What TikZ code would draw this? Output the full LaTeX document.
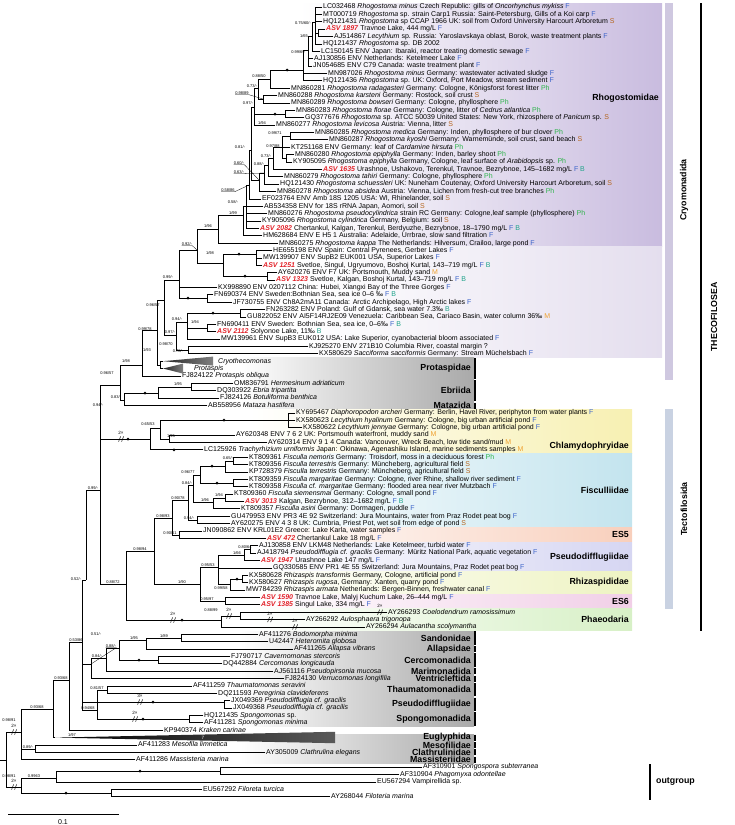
\documentclass[tikz,border=0pt]{standalone}
\usepackage{fontspec}
\setmainfont{Liberation Sans}
\usetikzlibrary{calc}
\definecolor{cF}{HTML}{3A62C9}
\definecolor{cS}{HTML}{B5651D}
\definecolor{cPh}{HTML}{2DB34A}
\definecolor{cM}{HTML}{EFA02E}
\definecolor{cB}{HTML}{1FA38A}
\definecolor{cASV}{HTML}{E2232A}
\definecolor{cRho}{HTML}{C9BCDF}
\definecolor{cCry}{HTML}{E4DEEE}
\definecolor{cBand}{HTML}{CFC8E0}
\definecolor{cTect}{HTML}{C9D2E2}
\definecolor{cGrey}{HTML}{A9A9A9}
\definecolor{cChl}{HTML}{F7F0B2}
\definecolor{cFis}{HTML}{C3E4EE}
\definecolor{cESf}{HTML}{F8CFBC}
\definecolor{cPse}{HTML}{D6D6F2}
\definecolor{cRhz}{HTML}{EEF3C2}
\definecolor{cESs}{HTML}{F1CFE7}
\definecolor{cPha}{HTML}{D7F0C6}
\newcommand{\hF}{\textcolor{cF}{F}}
\newcommand{\hS}{\textcolor{cS}{S}}
\newcommand{\hP}{\textcolor{cPh}{Ph}}
\newcommand{\hM}{\textcolor{cM}{M}}
\newcommand{\hB}{\textcolor{cB}{B}}
\newcommand{\asv}[1]{\textcolor{cASV}{\textbf{\textit{ASV #1}}}}
% break mark on a long branch
\newcommand{\brkmark}[3]{%
  \draw[line width=0.5pt] ({#1-2.4},{#2+2.6}) -- ({#1-0.4},{#2-2.6}) ({#1+0.6},{#2+2.6}) -- ({#1+2.6},{#2-2.6});
  \node[sup,font=\fontsize{4.6}{5}\selectfont] at (#1,{#2-6}) {#3};}
\tikzset{
  br/.style={line width=0.75pt, line cap=rect},
  pt/.style={inner sep=0pt, minimum size=0pt},
  leaf/.style={anchor=west, inner sep=1pt, text height=5.1pt, text depth=1.4pt, font=\fontsize{7}{7}\selectfont},
  sup/.style={inner sep=0pt, font=\fontsize{4}{4}\selectfont},
  lead/.style={line width=0.3pt},
  fam/.style={anchor=east, inner sep=1pt, font=\bfseries\fontsize{8.8}{9}\selectfont},
}
\begin{document}
\begin{tikzpicture}[x=1pt,y=-1pt]
\useasboundingbox (0,0) rectangle (735,825);

% clade backgrounds
\shade[left color=white, right color=cRho] (300,3.3) rectangle (662,246.9);
\shade[left color=white, right color=cCry] (300,246.9) rectangle (662,357.6);
\fill[cBand] (665,3.3) rectangle (673,379.7);
\fill[cTect] (665,409.2) rectangle (673,608.5);
\foreach \a/\b/\c in {55/60/cChl, 61/70/cFis, 71/72/cESf, 73/76/cPse, 77/79/cRhz, 80/81/cESs, 82/84/cPha}
  \shade[left color=white, right color=\c] (250,{7+7.38*\a-3.3}) rectangle (632,{7+7.38*\b+3.3});
\foreach \a/\b in {48/50, 51/53, 54/54, 85/86, 87/87, 88/89, 90/90, 91/91, 92/93, 94/95, 96/97, 99/99, 100/100, 101/101, 102/102} {
  \shade[left color=white, right color=cGrey] (240,{7+7.38*\a-3.3}) rectangle (474,{7+7.38*\b+3.3});
  \draw[line width=1.2pt] (475,{7+7.38*\a-3}) -- (475,{7+7.38*\b+3});
}

% internal nodes
\foreach \n/\x/\y in {R4/315/22, R4b/318/33, R3/312/36, R2/308/50, R1/303/70, R0/270/79,
  A8/263/99, A7/258/88, A9/285/114, A5/254/107, B1/290/136, B2/286/158, B3/282/147,
  B4/273/158, B5/268/165, B6/264/173, B7/259/180, A4/251/150, A3/249/185, A2/246/206,
  A1/243/215, A0/218/229, D1/256/254, D3/267/276, D2/223/263, C0/197/250, D4/207/298,
  C1/179/280, D5/240/313, D6/207/328, C5/187/322, C6/188/350, C7/176/335, C3/164/300,
  C4/160/365, CrA/163/361.2, PrA/163/368.6, Cry1/157/330, Cry/142/365,
  E1/191/387, E2/158/393, E0/124/400, Nceb/120/385,
  F1/288/420, F2/169/439, F3/160/428, F4/150/439, N100/100/490,
  G1/233/461, G2/225/466, G3/233/483, G4/200/475, G5a/225/498, G5/213/502, G6/193/485,
  G7/197/520, G8/188/500, T2b/179/535, T2/172/518, P1/250/549, P2/244/555,
  Rz1/242/579, Rz0/230/584, T3a/218/567, ESs/225/601, T3/200/584, T1/154/551,
  Ph1/240/616, Ph0/221/620, Ntect/126/584, TH/86/580,
  Sa4/181/638, Sa3/146/640, Cerc/158/660, Sa2/119/648, Sa1/106/658, Sa0/91/664,
  Tm1/107/690, Sp/189/719, Tm0/97/710, PD/224/702, S0/82/642, S1/69/680,
  S2/53/709, EuA/55/737.6, GR/35/749, S3/21/732, Phy/220/771, EN/56/778,
  FI/111/793, OG/21/787, RT/6/760, rs/0/760}
  \node[pt] (\n) at (\x,\y) {};

% leaves
\foreach \i/\x/\t in {
 0/322/{LC032468 \textit{Rhogostoma minus} Czech Republic: gills of \textit{Oncorhynchus mykiss} \hF},
 1/322/{MT000719 \textit{Rhogostoma} sp. strain Carp1 Russia: Saint-Petersburg, Gills of a Koi carp \hF},
 2/322/{HQ121431 \textit{Rhogostoma} sp CCAP 1966 UK: soil from Oxford University Harcourt Arboretum \hS},
 3/325/{\asv{1897} Travnoe Lake, 444 mg/L \hF},
 4/333/{AJ514867 \textit{Lecythium} sp. Russia: Yaroslavskaya oblast, Borok, waste treatment plants \hF},
 5/322/{HQ121437 \textit{Rhogostoma} sp. DB 2002},
 6/320/{LC150145 ENV Japan: Ibaraki, reactor treating domestic sewage \hF},
 7/313/{AJ130856 ENV Netherlands: Ketelmeer Lake \hF},
 8/312/{JN054685 ENV C79 Canada: waste treatment plant \hF},
 9/327/{MN987026 \textit{Rhogostoma minus} Germany: wastewater activated sludge \hF},
 10/322/{HQ121436 \textit{Rhogostoma} sp. UK: Oxford, Port Meadow, stream sediment \hF},
 11/290/{MN860281 \textit{Rhogostoma radagasteri} Germany: Cologne, Königsforst forest litter \hP},
 12/277/{MN860288 \textit{Rhogostoma karsteni} Germany: Rostock, soil crust \hS},
 13/290/{MN860289 \textit{Rhogostoma bowseri} Germany: Cologne, phyllosphere \hP},
 14/295/{MN860283 \textit{Rhogostoma florae} Germany: Cologne, litter of \textit{Cedrus atlantica} \hP},
 15/304/{GQ377676 \textit{Rhogostoma} sp. ATCC 50039 United States: New York, rhizosphere of \textit{Panicum} sp. \hS},
 16/275/{MN860277 \textit{Rhogostoma levicosa} Austria: Vienna, litter \hS},
 17/314/{MN860285 \textit{Rhogostoma medica} Germany: Inden, phyllosphere of bur clover \hP},
 18/328/{MN860287 \textit{Rhogostoma kyoshi} Germany: Warnemünde, soil crust, sand beach \hS},
 19/290/{KT251168 ENV Germany: leaf of \textit{Cardamine hirsuta} \hP},
 20/294/{MN860280 \textit{Rhogostoma epiphylla} Germany: Inden, barley shoot \hP},
 21/292/{KY905095 \textit{Rhogostoma epiphylla} Germany, Cologne, leaf surface of \textit{Arabidopsis} sp. \hP},
 22/322/{\asv{1635} Urashnoe, Ushakovo, Terenkul, Travnoe, Bezrybnoe, 145–1682 mg/L \hF\ \hB},
 23/283/{MN860279 \textit{Rhogostoma tahiri} Germany: Cologne, phyllosphere \hP},
 24/279/{HQ121430 \textit{Rhogostoma schuessleri} UK: Nuneham Coutenay, Oxford University Harcourt Arboretum, soil \hS},
 25/276/{MN860278 \textit{Rhogostoma absidea} Austria: Vienna, Lichen from fresh-cut tree branches \hP},
 26/261/{EF023764 ENV Amb 18S 1205 USA: WI, Rhinelander, soil \hS},
 27/263/{AB534358 ENV for 18S rRNA Japan, Aomori, soil \hS},
 28/267/{MN860276 \textit{Rhogostoma pseudocylindrica} strain RC Germany: Cologne,leaf sample (phyllosphere) \hP},
 29/261/{KY905096 \textit{Rhogostoma cylindrica} Germany, Belgium: soil \hS},
 30/259/{\asv{2082} Chertankul, Kalgan, Terenkul, Berdyuzhe, Bezrybnoe, 18–1790 mg/L \hF\ \hB},
 31/262/{HM628684 ENV E H5 1 Australia: Adelaide, Urrbrae, slow sand filtration \hF},
 32/278/{MN860275 \textit{Rhogostoma kappa} The Netherlands: Hilversum, Crailoo, large pond \hF},
 33/272/{HE655198 ENV Spain: Central Pyrenees, Gerber Lakes \hF},
 34/262/{MW139907 ENV SupB2 EUK001 USA, Superior Lakes \hF},
 35/262/{\asv{1251} Svetloe, Singul, Ugryumovo, Boshoj Kurtal, 143–719 mg/L \hF\ \hB},
 36/277/{AY620276 ENV F7 UK: Portsmouth, Muddy sand \hM},
 37/275/{\asv{1323} Svetloe, Kalgan, Boshoj Kurtal, 143–719 mg/L \hF\ \hB},
 38/217/{KX998890 ENV 0207112 China: Hubei, Xiangxi Bay of the Three Gorges \hF},
 39/213/{FN690374 ENV Sweden:Bothnian Sea, sea ice 0–6 ‰ \hF\ \hB},
 40/232/{JF730755 ENV Ch8A2mA11 Canada: Arctic Archipelago, High Arctic lakes \hF},
 41/265/{FN263282 ENV Poland: Gulf of Gdansk, sea water 7.3‰ \hB},
 42/246/{GU822052 ENV AI5F14RJ2E09 Venezuela: Caribbean Sea, Cariaco Basin, water column 36‰ \hM},
 43/216/{FN690411 ENV Sweden: Bothnian Sea, sea ice, 0–6‰ \hF\ \hB},
 44/216/{\asv{2112} Solyonoe Lake, 11‰ \hB},
 45/220/{MW139961 ENV SupB3 EUK012 USA: Lake Superior, cyanobacterial bloom associated \hF},
 46/308/{KJ925270 ENV 271B10 Columbia River, coastal margin ?},
 47/318/{KX580629 \textit{Sacciforma sacciformis} Germany: Stream Müchelsbach \hF},
 48/217/{\textit{Cryothecomonas}},
 49/193/{\textit{Protaspis}},
 50/181/{FJ824122 \textit{Protaspis obliqua}},
 51/233/{OM836791 \textit{Hermesinum adriaticum}},
 52/216/{DQ303922 \textit{Ebria tripartita}},
 53/219/{FJ824126 \textit{Botuliforma benthica}},
 54/207/{AB558956 \textit{Mataza hastifera}},
 55/295/{KY695467 \textit{Diaphoropodon archeri} Germany: Berlin, Havel River, periphyton from water plants \hF},
 56/295/{KX580623 \textit{Lecythium hyalinum} Germany: Cologne, big urban artificial pond \hF},
 57/302/{KX580622 \textit{Lecythium jennyae} Germany: Cologne, big urban artificial pond \hF},
 58/235/{AY620348 ENV 7 6 2 UK: Portsmouth waterfront, muddy sand \hM},
 59/267/{AY620314 ENV 9 1 4 Canada: Vancouver, Wreck Beach, low tide sand/mud \hM},
 60/203/{LC125926 \textit{Trachyrhizium urniformis} Japan: Okinawa, Agenashiku Island, marine sediments samples \hM},
 61/248/{KT809361 \textit{Fisculla nemoris} Germany: Troisdorf, moss in a deciduous forest \hP},
 62/248/{KT809356 \textit{Fisculla terrestris} Germany: Müncheberg, agricultural field \hS},
 63/248/{KP728379 \textit{Fisculla terrestris} Germany: Müncheberg, agricultural field \hS},
 64/248/{KT809359 \textit{Fisculla margaritae} Germany: Cologne, river Rhine, shallow river sediment \hF},
 65/248/{KT809358 \textit{Fisculla cf. margaritae} Germany: flooded area near river Mutzbach \hF},
 66/233/{KT809360 \textit{Fisculla siemensmai} Germany: Cologne, small pond \hF},
 67/244/{\asv{3013} Kalgan, Bezrybnoe, 312–1682 mg/L \hF\ \hB},
 68/240/{KT809357 \textit{Fisculla asini} Germany: Dormagen, puddle \hF},
 69/230/{GU479953 ENV PR3 4E 92 Switzerland: Jura Mountains, water from Praz Rodet peat bog \hF},
 70/230/{AY620275 ENV 4 3 8 UK: Cumbria, Priest Pot, wet soil from edge of pond \hS},
 71/202/{JN090862 ENV KRL01E2 Greece: Lake Karla, water samples \hF},
 72/266/{\asv{472} Chertankul Lake 18 mg/L \hF},
 73/258/{AJ130858 ENV LKM48 Netherlands: Lake Ketelmeer, turbid water \hF},
 74/256/{AJ418794 \textit{Pseudodifflugia cf. gracilis} Germany: Müritz National Park, aquatic vegetation \hF},
 75/260/{\asv{1947} Urashnoe Lake 147 mg/L \hF},
 76/272/{GQ330585 ENV PR1 4E 55 Switzerland: Jura Mountains, Praz Rodet peat bog \hF},
 77/248/{KX580628 \textit{Rhizaspis transformis} Germany, Cologne, artificial pond \hF},
 78/248/{KX580627 \textit{Rhizaspis rugosa}, Germany: Xanten, quarry pond \hF},
 79/245/{MW784239 \textit{Rhizaspis armata} Netherlands: Bergen-Binnen, freshwater canal \hF},
 80/260/{\asv{1590} Travnoe Lake, Malyj Kuchum Lake, 26–444 mg/L \hF},
 81/260/{\asv{1385} Singul Lake, 334 mg/L \hF},
 82/387/{AY266293 \textit{Coelodendrum ramosissimum}},
 83/305/{AY266292 \textit{Aulosphaera trigonopa}},
 84/365/{AY266294 \textit{Aulacantha scolymantha}},
 85/258/{AF411276 \textit{Bodomorpha minima}},
 86/268/{U42447 \textit{Heteromita globosa}},
 87/293/{AF411265 \textit{Allapsa vibrans}},
 88/230/{FJ790717 \textit{Cavernomonas stercoris}},
 89/222/{DQ442884 \textit{Cercomonas longicauda}},
 90/273/{AJ561116 \textit{Pseudopirsonia mucosa}},
 91/284/{FJ824130 \textit{Verrucomonas longifilia}},
 92/192/{AF411259 \textit{Thaumatomonas seravini}},
 93/217/{DQ211593 \textit{Peregrinia clavideferens}},
 94/230/{JX049369 \textit{Pseudodifflugia cf. gracilis}},
 95/232/{JX049368 \textit{Pseudodifflugia cf. gracilis}},
 96/203/{HQ121435 \textit{Spongomonas} sp.},
 97/203/{AF411281 \textit{Spongomonas minima}},
 98/163/{KP940374 \textit{Kraken carinae}},
 100/137/{AF411283 \textit{Mesofila limnetica}},
 101/265/{AY305009 \textit{Clathrulina elegans}},
 102/135/{AF411286 \textit{Massisteria marina}},
 103/422/{AF310901 \textit{Spongospora subterranea}},
 104/399/{AF310904 \textit{Phagomyxa odontellae}},
 105/376/{EU567294 Vampirellida sp.},
 106/202/{EU567292 \textit{Filoreta turcica}},
 107/330/{AY268044 \textit{Filoteria marina}}}
  \node[leaf] (L\i) at (\x,{7+7.38*\i}) {\t};

% branches
\foreach \p/\c in {R4/L0, R4/L1, R4/L2, R4/R4b, R4/L5, R4b/L3, R4b/L4, R3/R4, R3/L6,
  R2/R3, R2/L7, R2/L8, R1/R2, R1/L9, R1/L10, R0/R1, R0/L11, A7/R0, A7/A8, A8/L12, A8/L13,
  A9/L14, A9/L15, A5/A7, A5/A9, A5/L16, B1/L17, B1/L18, B2/L20, B2/L21, B3/B1, B3/L19,
  B3/B2, B4/B3, B4/L22, B5/B4, B5/L23, B6/B5, B6/L24, B7/B6, B7/L25, A4/A5, A4/B7,
  A3/A4, A3/L26, A2/A3, A2/L27, A2/L28, A2/L29, A2/L30, A1/A2, A1/L31, A0/A1, A0/L32,
  D1/L33, D1/L34, D1/L35, D3/L36, D3/L37, D2/D1, D2/D3, C0/A0, C0/D2, D4/L39, D4/L40,
  C1/C0, C1/L38, C1/D4, D5/L41, D5/L42, D6/L43, D6/L44, C5/D5, C5/D6, C5/L45,
  C6/L46, C6/L47, C7/C5, C7/C6, C3/C1, C3/C7, C4/CrA, C4/PrA, Cry1/C3, Cry1/C4,
  Cry/Cry1, Cry/L50, E1/L51, E1/L52, E2/E1, E2/L53, E0/E2, E0/L54, Nceb/Cry, Nceb/E0,
  F1/L55, F1/L56, F1/L57, F2/L58, F2/L59, F3/F1, F3/F2, F4/F3, F4/L60,
  N100/Nceb, N100/F4, N100/Ntect, G1/L61, G1/L62, G2/G1, G2/L63, G3/L64, G3/L65,
  G4/G2, G4/G3, G5a/L66, G5a/L67, G5/G5a, G5/L68, G6/G4, G6/G5, G7/L69, G7/L70,
  G8/G6, G8/G7, T2b/L71, T2b/L72, T2/G8, T2/T2b, P1/L73, P1/L74, P2/P1, P2/L75,
  Rz1/L77, Rz1/L78, Rz0/Rz1, Rz0/L79, T3a/P2, T3a/L76, T3a/Rz0, ESs/L80, ESs/L81,
  T3/T3a, T3/ESs, T1/T2, T1/T3, Ph1/L82, Ph1/L83, Ph0/Ph1, Ph0/L84, Ntect/T1, Ntect/Ph0,
  TH/N100, Sa4/L85, Sa4/L86, Sa3/Sa4, Sa3/L87, Cerc/L88, Cerc/L89, Sa2/Sa3, Sa2/Cerc,
  Sa1/Sa2, Sa1/L90, Sa0/Sa1, Sa0/L91, Tm1/L92, Tm1/L93, Sp/L96, Sp/L97, Tm0/Tm1, Tm0/Sp,
  PD/L94, PD/L95, S0/TH, S0/Sa0, S0/PD, S0/Tm0, S1/S0, S1/L98, S2/S1, S2/EuA,
  GR/L100, GR/L101, S3/S2, S3/GR, S3/L102, Phy/L103, Phy/L104, EN/Phy, EN/L105,
  FI/L106, FI/L107, OG/EN, OG/FI, RT/S3, RT/OG}
  \draw[br] (\p) |- (\c.west);
\draw[br] (rs) -- (RT);

% collapsed clades
\shade[left color=black!85, right color=black!50] (CrA) -- (213,356.6) -- (213,365.6) -- cycle;
\shade[left color=black!85, right color=black!50] (PrA) -- (183,363.6) -- (183,373.6) -- cycle;
\shade[left color=black, right color=black!65] (EuA) -- (335,731.8) -- (335,743.2) -- cycle;
\node[sup, text=white, font=\fontsize{4.6}{5}\selectfont] (eun) at (203,737.8) {7};

% full support
\foreach \x/\y in {287/70, 275/114, 239/254, 245/276, 188/298, 213/313, 145/393, 224/420,
  174/449.8, 128/439, 212/466, 217/483, 237/579, 182/620, 139/660, 153/702, 143/719,
  140/771, 66/793}
  \fill (\x,\y) circle (1.5);

% long branches
\foreach \x/\y/\t in {121/439/2×, 173/620/2×, 229/616/2×, 380/612.2/2×, 270/619.5/2×,
  295/626.9/2×, 140/702/3×, 135/719/2×, 14/732/2×, 14/787/2×}
  {\brkmark{\x}{\y}{\t}}

% support values
\foreach \x/\y/\t [count=\k] in {303/23/{0.75/60/-}, 304/36/{1/65}, 298/52/{0.99/69},
  259/76/{0.88/50}, 252/86/{0.73/-}, 242/93/{0.98/89}, 248/103/{0.97/-}, 262/123/{1/94},
  275/133/{0.99/71}, 273/146/{0.97/88}, 266/156/{0.73/-}, 240/147/{0.81/-},
  239/163/{0.60/-}, 259/164/{0.88/-}, 239/172/{0.63/-}, 228/190/{0.58/86},
  233/202/{0.58/-}, 233/213/{1/99}, 208/226/{1/96}, 187/244/{0.92/-}, 210/253/{1/98},
  168/277/{0.99/-}, 153/305/{0.96/57}, 177/319/{0.94/-}, 195/322/{1/94}, 170/332/{0.97/-},
  145/329/{0.99/78}, 166/344/{0.98/70}, 178/351/{0.78/-}, 147/350/{1/93}, 126/361/{1/98},
  107/373/{0.96/57}, 178/384/{1/95}, 116/397/{0.83/-}, 98/405/{0.94/-}, 148/424/{0.65/53},
  171/436/{1/95}, 228/458/{0.65/-}, 188/472/{0.96/77}, 187/483/{0.84/-}, 219/495/{1/94},
  205/500/{1/96}, 178/498/{0.90/78}, 189/518/{0.94/-}, 163/516/{0.98/93}, 170/533/{0.90/61},
  93/488/{0.99/-}, 140/549/{0.98/94}, 245/547/{0.80/64}, 237/553/{1/66}, 208/565/{0.95/53},
  182/582/{1/90}, 113/582/{0.88/72}, 76/579/{0.52/-}, 221/588/{0.99/58}, 207/599/{0.95/97},
  211/610/{0.88/99}, 96/634/{0.51/-}, 76/640/{0.53/86}, 134/638/{1/95}, 164/636/{1/89},
  111/646/{0.88/-}, 97/656/{0.84/-}, 97/688/{0.81/57}, 88/708/{0.94/68}, 61/678/{0.93/68},
  37/707/{0.93/68}, 72/735/{1/97}, 28/747/{0.89/-}, 9/720/{0.98/91}, 9/776/{0.98/91},
  34/776/{0.9963}}
  \node[sup] (s\k) at (\x,\y) {\t};

% leader lines of the shifted support values
\foreach \k/\n in {6/A8, 13/B7, 15/B6, 16/A3, 20/C0, 62/Sa0}
  \draw[lead] (s\k.south west) -- (s\k.south east) -- (\n);

% family labels
\node[fam] (fRho) at (660,98) {Rhogostomidae};
\foreach \n/\y/\t in {fPro/368.6/Protaspidae, fEbr/390.8/Ebriida, fMat/405.5/Matazida,
  fSan/638/Sandonidae, fAll/649.1/Allapsidae, fCer/660.1/Cercomonadida,
  fMar/671.2/Marimonadida, fVen/678.6/Ventricleftida, fTha/689.7/Thaumatomonadida,
  fPsl/704.4/Pseudodifflugiidae, fSpo/719.2/Spongomonadida, fEug/737.6/Euglyphida,
  fMes/745/Mesofilidae, fCla/752.4/Clathrulinidae, fMas/759.8/Massisteriidae}
  \node[fam] (\n) at (472,\y) {\t};
\foreach \n/\y/\t in {fChl/446/Chlamydophryidae, fFis/490.4/Fisculliidae, fESf/534.7/ES5,
  fPsu/556.8/Pseudodifflugiidae, fRhz/582.6/Rhizaspididae, fESs/601.1/ES6, fPha/619.5/Phaeodaria}
  \node[fam] (\n) at (630,\y) {\t};
\node[fam, anchor=center, rotate=90] (gCry) at (684,190) {Cryomonadida};
\node[fam, anchor=center, rotate=90] (gTec) at (684,509) {Tectofilosida};
\draw[line width=1.3pt] (701,3.3) coordinate (thA) -- (701,630.6) coordinate (thB);
\node[fam, anchor=center, rotate=90] (gThe) at (714,317) {THECOFILOSEA};
\draw[line width=1.8pt] (650,764) coordinate (ogA) -- (650,800) coordinate (ogB);
\node[fam, anchor=west] (gOut) at (655,782) {outgroup};

% scale
\draw[line width=0.8pt] (8,814) coordinate (sbA) -- (119,814) coordinate (sbB);
\node[font=\fontsize{7}{7}\selectfont] (sbT) at (63,822) {0.1};
\end{tikzpicture}
\end{document}
